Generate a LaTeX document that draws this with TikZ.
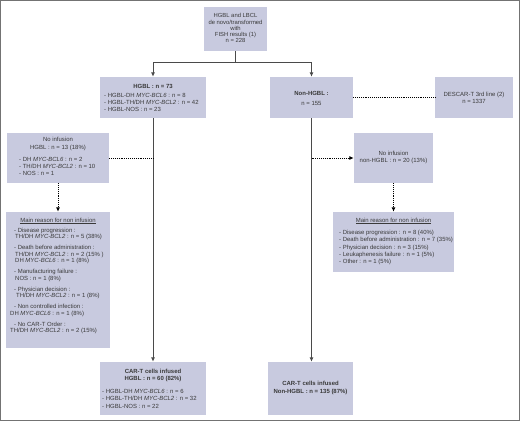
\documentclass[tikz,border=0pt]{standalone}
\usepackage{fontspec}
\setmainfont{Liberation Sans}
\usetikzlibrary{arrows.meta}
\definecolor{boxfill}{HTML}{C8CADF}
\definecolor{textc}{HTML}{3A3A3A}
\definecolor{linec}{HTML}{4A4A4A}
\newcommand{\fs}{\fontsize{6}{6.8}\selectfont}
\newcommand{\gene}[1]{\textit{#1}}
\begin{document}
\begin{tikzpicture}[x=1bp,y=-1bp,
  box/.style={fill=boxfill, draw=none, inner sep=0pt},
  txt/.style={inner sep=0pt, font=\fs, text=textc, align=left, anchor=west},
  ctxt/.style={inner sep=0pt, font=\fs, text=textc, align=center},
  flow/.style={draw=linec, line width=0.9bp, -{Latex[length=4.5bp,width=4bp]}},
  trunk/.style={draw=linec, line width=0.9bp},
  dotline/.style={draw=black, line width=0.9bp, densely dotted},
  dotarrow/.style={dotline, -{Latex[length=4.5bp,width=4bp]}}]
\useasboundingbox (0,0) rectangle (520,422);
\draw[draw=black!55, line width=1.2bp] (0.8,0.8) rectangle (519.2,420.8);
% boxes
\node[box, minimum width=63bp, minimum height=44bp] (top) at (235.5,29) {};
\node[box, minimum width=106bp, minimum height=41bp] (hgbl) at (153,97.5) {};
\node[box, minimum width=83bp, minimum height=41bp] (nonh) at (311.5,97.5) {};
\node[box, minimum width=78bp, minimum height=41bp] (desc) at (474,97.5) {};
\node[box, minimum width=102bp, minimum height=50bp] (noinfL) at (58,158) {};
\node[box, minimum width=79bp, minimum height=50bp] (noinfR) at (393.5,158) {};
\node[box, minimum width=103bp, minimum height=136bp] (mainL) at (58,280) {};
\node[box, minimum width=121bp, minimum height=60bp] (mainR) at (393.5,242) {};
\node[box, minimum width=106bp, minimum height=53bp] (carL) at (153,388.5) {};
\node[box, minimum width=85bp, minimum height=53bp] (carR) at (310.5,388.5) {};
% texts
\node[ctxt, font=\fontsize{5.9}{6.1}\selectfont] (toptxt) at (235.5,28)
  {HGBL and LBCL\\de novo/transformed\\with\\FISH results (1)\\n = 228};
\node[ctxt] (hgblt) at (153,86) {\textbf{HGBL : n = 73}};
\node[txt, font=\fontsize{6}{7}\selectfont] (hgbll) at (104,102)
  {- HGBL-DH \gene{MYC-BCL6} : n = 8\\- HGBL-TH/DH \gene{MYC-BCL2} : n = 42\\- HGBL-NOS : n = 23};
\node[ctxt] (nonht) at (311.5,98) {\textbf{Non-HGBL :}\\[3.2bp]n = 155};
\node[ctxt] (desct) at (474,97.5) {DESCAR-T 3rd line (2)\\n = 1337};
\node[ctxt, font=\fontsize{6}{8}\selectfont] (noinfLt) at (58,144) {No infusion\\HGBL : n = 13 (18\%)};
\node[txt, font=\fontsize{6}{7}\selectfont] (noinfLl) at (19,166)
  {- DH \gene{MYC-BCL6} : n = 2\\- TH/DH \gene{MYC-BCL2} : n = 10\\- NOS : n = 1};
\node[ctxt, font=\fontsize{6}{7}\selectfont] (noinfRt) at (393.5,157.5) {No infusion\\non-HGBL : n = 20 (13\%)};
\node[ctxt] (mainLt) at (58,221) {\underline{Main reason for non infusion}};
\node[txt, font=\fontsize{6}{6.5}\selectfont] (mainLl) at (14,281)
  {- Disease progression :\\\hspace*{1bp}TH/DH \gene{MYC-BCL2} : n = 5 (38\%)\\[4.5bp]
   - Death before administration :\\\hspace*{1bp}TH/DH \gene{MYC-BCL2} : n = 2 (15\% )\\\hspace*{1bp}DH \gene{MYC-BCL6} : n = 1 (8\%)\\[4.5bp]
   - Manufacturing failure :\\\hspace*{1bp}NOS : n = 1 (8\%)\\[4.5bp]
   - Physician decision :\\\hspace*{2bp}TH/DH \gene{MYC-BCL2} : n = 1 (8\%)\\[4.5bp]
   - Non controlled infection :\\\hspace*{-4bp}DH \gene{MYC-BCL6} : n = 1 (8\%)\\[4.5bp]
   - No CAR-T Order :\\\hspace*{-4bp}TH/DH \gene{MYC-BCL2} : n = 2 (15\%)};
\node[ctxt] (mainRt) at (393.5,221) {\underline{Main reason for non infusion}};
\node[txt, font=\fontsize{6}{7.2}\selectfont] (mainRl) at (339,247.5)
  {- Disease progression : n = 8 (40\%)\\- Death before administration : n = 7 (35\%)\\- Physician decision : n = 3 (15\%)\\- Leukaphenesis failure : n = 1 (5\%)\\- Other : n = 1 (5\%)};
\node[ctxt, font=\bfseries\fontsize{6}{7}\selectfont] (carLt) at (153,375.5) {CAR-T cells infused\\HGBL : n = 60 (82\%)};
\node[txt, font=\fontsize{6}{7.5}\selectfont] (carLl) at (102,398.5)
  {- HGBL-DH \gene{MYC-BCL6} : n = 6\\- HGBL-TH/DH \gene{MYC-BCL2} : n = 32\\- HGBL-NOS : n = 22};
\node[ctxt, font=\bfseries\fontsize{6}{8}\selectfont] (carRt) at (310.5,388) {CAR-T cells infused\\Non-HGBL : n = 135 (87\%)};
% connectors
\coordinate (split) at (235.5,62);
\draw[trunk] (top.south) -- (split);
\draw[flow] (split) -| (hgbl.north);
\draw[flow] (split) -| (nonh.north);
\draw[flow] (hgbl.south) -- (carL.north);
\draw[flow] (nonh.south) -- (nonh.south |- carR.north);
\draw[dotline] (nonh.east) -- (desc.west);
\draw[dotline] (noinfL.east) -- (noinfL.east -| hgbl.south);
\draw[dotarrow] (noinfR.west -| nonh.south) -- (noinfR.west);
\draw[dotarrow] (noinfL.south) -- (mainL.north);
\draw[dotarrow] (noinfR.south) -- (mainR.north);
\end{tikzpicture}
\end{document}
